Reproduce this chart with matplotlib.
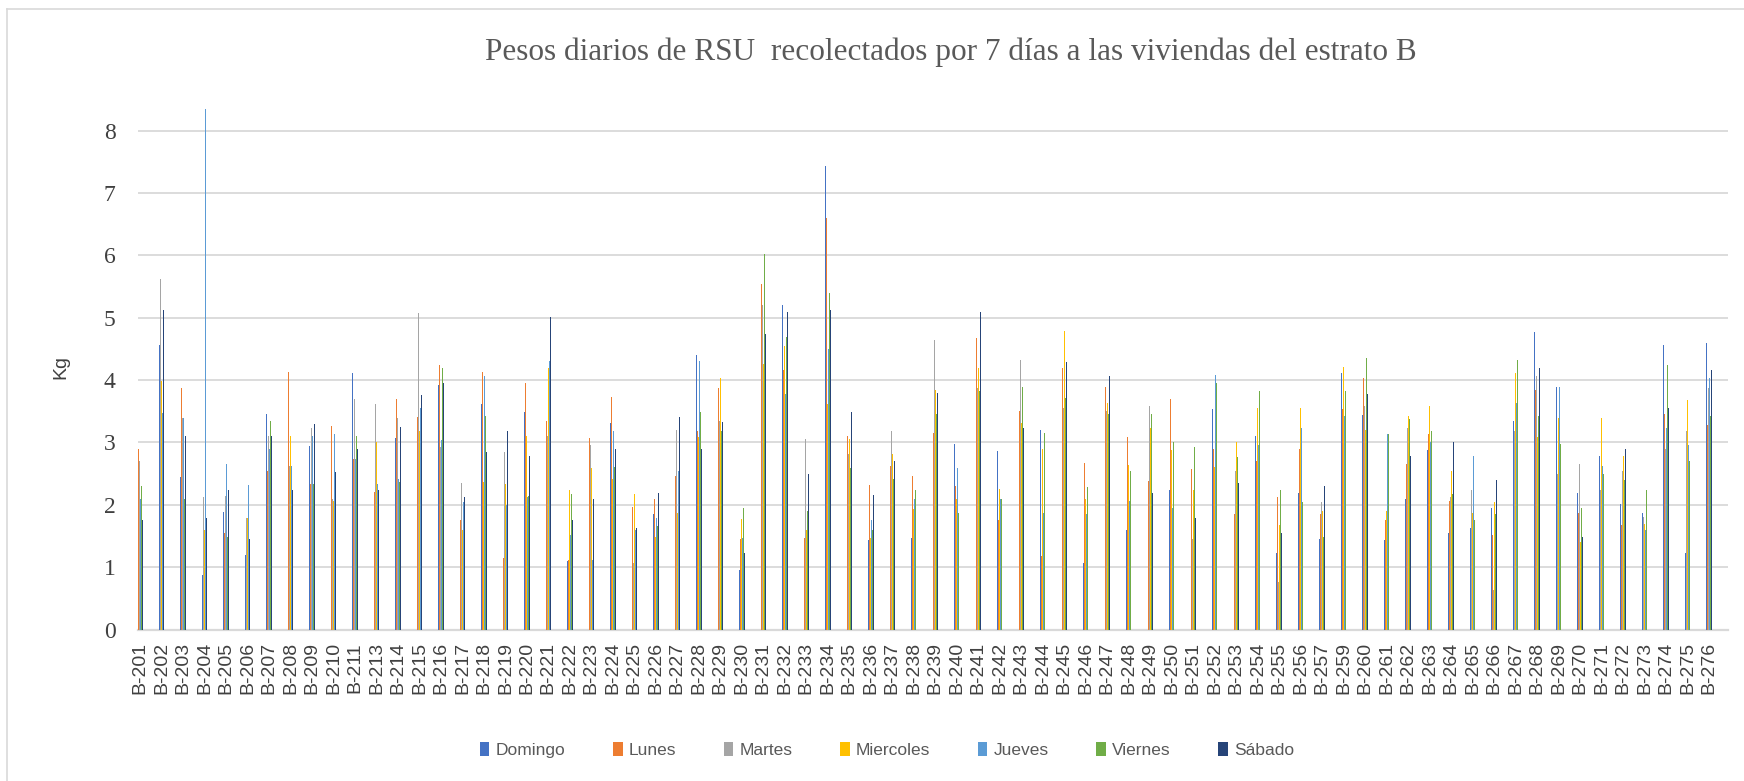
import matplotlib
matplotlib.use("Agg")
import matplotlib.pyplot as plt
import numpy as np

categories = ["B-%d" % n for n in list(range(201, 212)) + list(range(213, 258)) + list(range(259, 277))]
series_names = ["Domingo", "Lunes", "Martes", "Miercoles", "Jueves", "Viernes", "Sábado"]
colors = ["#4472C4", "#ED7D31", "#A5A5A5", "#FFC000", "#5B9BD5", "#70AD47", "#264478"]

domingo = [1.87, 4.56, 2.44, 0.88, 1.88, 1.19, 3.45, 3.55, 2.94, 2.50, 4.12, 3.69, 3.07, 2.39, 3.92,
           2.89, 3.61, 3.65, 3.49, 4.59, 1.10, 0.43, 3.32, 1.00, 1.86, 0.64, 4.41, 3.88, 0.95, 6.13,
           5.21, 2.19, 7.44, 2.65, 1.43, 3.76, 1.47, 3.15, 2.97, 3.65, 2.87, 4.94, 3.20, 3.10, 1.07,
           4.14, 1.59, 3.55, 2.24, 1.76, 3.54, 1.02, 3.11, 1.22, 2.19, 1.45, 4.11, 3.44, 1.43, 2.10,
           2.88, 1.55, 1.63, 1.95, 3.34, 4.77, 3.89, 2.19, 2.79, 2.01, 1.87, 4.56, 1.22, 4.60]
lunes = [2.90, 5.02, 3.88, 1.31, 1.55, 2.26, 2.55, 4.13, 2.33, 3.27, 2.74, 2.20, 3.70, 3.41, 4.25,
         1.75, 4.13, 1.14, 3.96, 3.34, 1.11, 3.07, 3.73, 1.97, 2.09, 2.47, 3.19, 3.88, 1.45, 5.55,
         4.17, 1.47, 6.60, 3.11, 2.32, 2.63, 2.46, 3.15, 2.31, 4.67, 1.76, 3.51, 1.18, 4.20, 2.67,
         3.89, 3.09, 2.39, 3.69, 2.58, 2.89, 1.86, 2.70, 2.12, 2.89, 1.85, 3.53, 4.04, 1.75, 2.65,
         3.14, 2.06, 2.65, 1.51, 4.60, 3.84, 4.20, 1.87, 3.20, 1.67, 2.30, 3.45, 2.58, 3.28]
martes = [2.70, 5.62, 3.40, 2.12, 2.14, 1.79, 3.10, 2.63, 3.24, 2.09, 3.69, 3.61, 3.39, 5.08, 2.92,
          2.35, 3.20, 2.85, 2.58, 3.10, 1.60, 2.96, 2.96, 1.06, 1.71, 3.20, 3.00, 3.34, 1.60, 5.20,
          3.80, 3.05, 7.05, 2.82, 1.55, 3.19, 2.70, 4.64, 2.59, 3.88, 2.39, 4.32, 1.68, 3.56, 2.28,
          3.50, 2.39, 3.59, 3.19, 1.45, 2.23, 2.54, 3.72, 0.77, 3.14, 2.04, 3.42, 3.59, 2.49, 3.24,
          3.19, 2.13, 2.24, 0.64, 3.19, 4.07, 2.50, 2.65, 2.24, 2.54, 1.80, 2.89, 3.19, 3.87]
miercoles = [1.63, 3.99, 2.10, 1.60, 1.41, 1.79, 3.23, 3.10, 2.60, 2.06, 2.42, 3.01, 2.79, 3.19, 3.35,
             1.60, 2.36, 2.33, 3.10, 4.20, 2.24, 2.59, 2.42, 2.17, 1.48, 1.87, 3.09, 4.04, 1.78, 4.26,
             4.54, 1.60, 3.61, 3.05, 1.47, 2.81, 1.93, 3.84, 2.10, 4.20, 2.25, 3.31, 2.89, 4.79, 2.10,
             3.64, 2.64, 3.24, 2.88, 2.24, 2.60, 3.01, 3.55, 1.68, 3.55, 1.90, 4.21, 3.20, 1.90, 3.43,
             3.59, 2.54, 1.87, 2.04, 4.11, 3.09, 3.39, 1.41, 3.40, 2.79, 1.70, 3.50, 3.68, 4.70]
jueves = [2.09, 3.47, 3.39, 8.35, 2.65, 2.32, 2.90, 2.63, 3.10, 3.13, 2.74, 2.33, 2.42, 3.55, 3.04,
          2.04, 4.07, 2.00, 2.13, 4.30, 1.51, 1.11, 3.19, 1.60, 1.79, 2.54, 4.30, 3.68, 1.46, 5.66,
          3.77, 2.13, 4.50, 2.59, 1.76, 2.70, 2.09, 4.11, 2.59, 4.80, 2.09, 3.89, 1.87, 3.26, 1.85,
          3.45, 2.06, 2.84, 1.95, 0.77, 4.09, 2.12, 2.96, 1.50, 3.24, 2.18, 3.42, 4.19, 3.14, 2.94,
          3.00, 1.80, 2.79, 2.68, 3.64, 4.54, 3.89, 2.87, 2.63, 3.08, 1.60, 3.23, 2.96, 4.04]
viernes = [2.30, 4.25, 2.10, 2.04, 1.49, 2.25, 3.35, 3.26, 2.33, 2.20, 3.11, 2.65, 2.36, 4.95, 4.20,
           1.95, 3.43, 1.75, 2.14, 4.30, 2.18, 1.44, 2.60, 2.33, 1.66, 2.89, 3.49, 3.19, 1.95, 6.02,
           4.70, 1.90, 5.40, 2.59, 1.60, 2.42, 2.23, 3.46, 1.87, 3.83, 2.09, 3.89, 3.15, 3.72, 2.28,
           3.45, 2.55, 3.46, 3.01, 2.92, 3.95, 2.76, 3.82, 2.24, 2.05, 1.48, 3.83, 4.36, 3.14, 3.38,
           3.19, 2.18, 1.76, 1.85, 4.32, 3.42, 2.98, 1.95, 2.49, 2.40, 2.24, 4.25, 2.71, 3.42]
sabado = [1.76, 5.12, 3.11, 1.79, 2.23, 1.45, 3.11, 2.23, 3.30, 2.52, 2.89, 2.24, 3.25, 3.76, 3.96,
          2.13, 2.84, 3.19, 2.79, 5.02, 1.75, 2.09, 2.89, 1.63, 2.19, 3.41, 2.89, 3.33, 1.23, 4.74,
          5.09, 2.49, 5.12, 3.49, 2.16, 2.70, 2.90, 3.80, 2.89, 5.10, 1.95, 3.23, 2.49, 4.29, 2.33,
          4.07, 2.84, 2.19, 2.39, 1.79, 2.73, 2.35, 3.23, 1.55, 2.05, 2.30, 3.40, 3.77, 2.62, 2.79,
          3.09, 3.01, 1.93, 2.40, 4.25, 4.20, 3.24, 1.48, 3.35, 2.89, 1.83, 3.56, 2.92, 4.17]

series = [domingo, lunes, martes, miercoles, jueves, viernes, sabado]
yticks = [0, 1, 2, 3, 4, 5, 6, 7, 8]

W, H = 1744, 781
fig = plt.figure(figsize=(W / 100, H / 100), dpi=100)
ax = fig.add_axes([137.6 / W, 1 - 629.5 / H, (1727.8 - 137.6) / W, (629.5 - 109) / H])

x = np.arange(len(categories))
bw = 0.036
for j, (name, vals, c) in enumerate(zip(series_names, series, colors)):
    ax.bar(x + (j - 3) * bw, vals, width=bw, color=c, label=name, linewidth=0, zorder=3)

ax.set_xlim(-0.11, len(categories) - 1 + 0.87)
ax.set_ylim(0, 8.35)
ax.set_yticks(yticks)
ax.set_yticklabels([str(t) for t in yticks], fontfamily="Liberation Serif", fontsize=17, color="#404040")
ax.set_xticks(x)
ax.set_xticklabels(categories, rotation=90, fontfamily="Liberation Sans", fontsize=14, color="#404040")
ax.tick_params(axis="both", length=0)
ax.tick_params(axis="x", pad=9)
ax.tick_params(axis="y", pad=16)
ax.grid(axis="y", color="#d9d9d9", linewidth=1.3, zorder=0)
for s in ["top", "right", "left"]:
    ax.spines[s].set_visible(False)
ax.spines["bottom"].set_color("#d9d9d9")
ax.spines["bottom"].set_linewidth(1.6)

fig.text(61 / W, 1 - 367 / H, "Kg", rotation=90, ha="center", va="center",
         fontfamily="Liberation Sans", fontsize=14, color="#404040")
fig.text(951 / W, 1 - 52 / H, "Pesos diarios de RSU  recolectados por 7 días a las viviendas del estrato B",
         ha="center", va="center", fontfamily="Liberation Serif", fontsize=22.5, color="#595959")

leg = fig.legend(loc="center", bbox_to_anchor=(887 / W, 1 - 750 / H), ncol=7, frameon=False,
                 prop={"family": "Liberation Sans", "size": 12.5}, handlelength=0.55, handleheight=0.9,
                 handletextpad=0.35, columnspacing=2.75)
for t in leg.get_texts():
    t.set_color("#595959")

# chart border (left and top)
fig.add_artist(plt.Line2D([7 / W, 7 / W], [1 - 9 / H, 0], transform=fig.transFigure, color="#d9d9d9", linewidth=1.2))
fig.add_artist(plt.Line2D([7 / W, 1], [1 - 9 / H, 1 - 9 / H], transform=fig.transFigure, color="#d9d9d9", linewidth=1.2))

fig.savefig("out.png", dpi=100, facecolor="white")
